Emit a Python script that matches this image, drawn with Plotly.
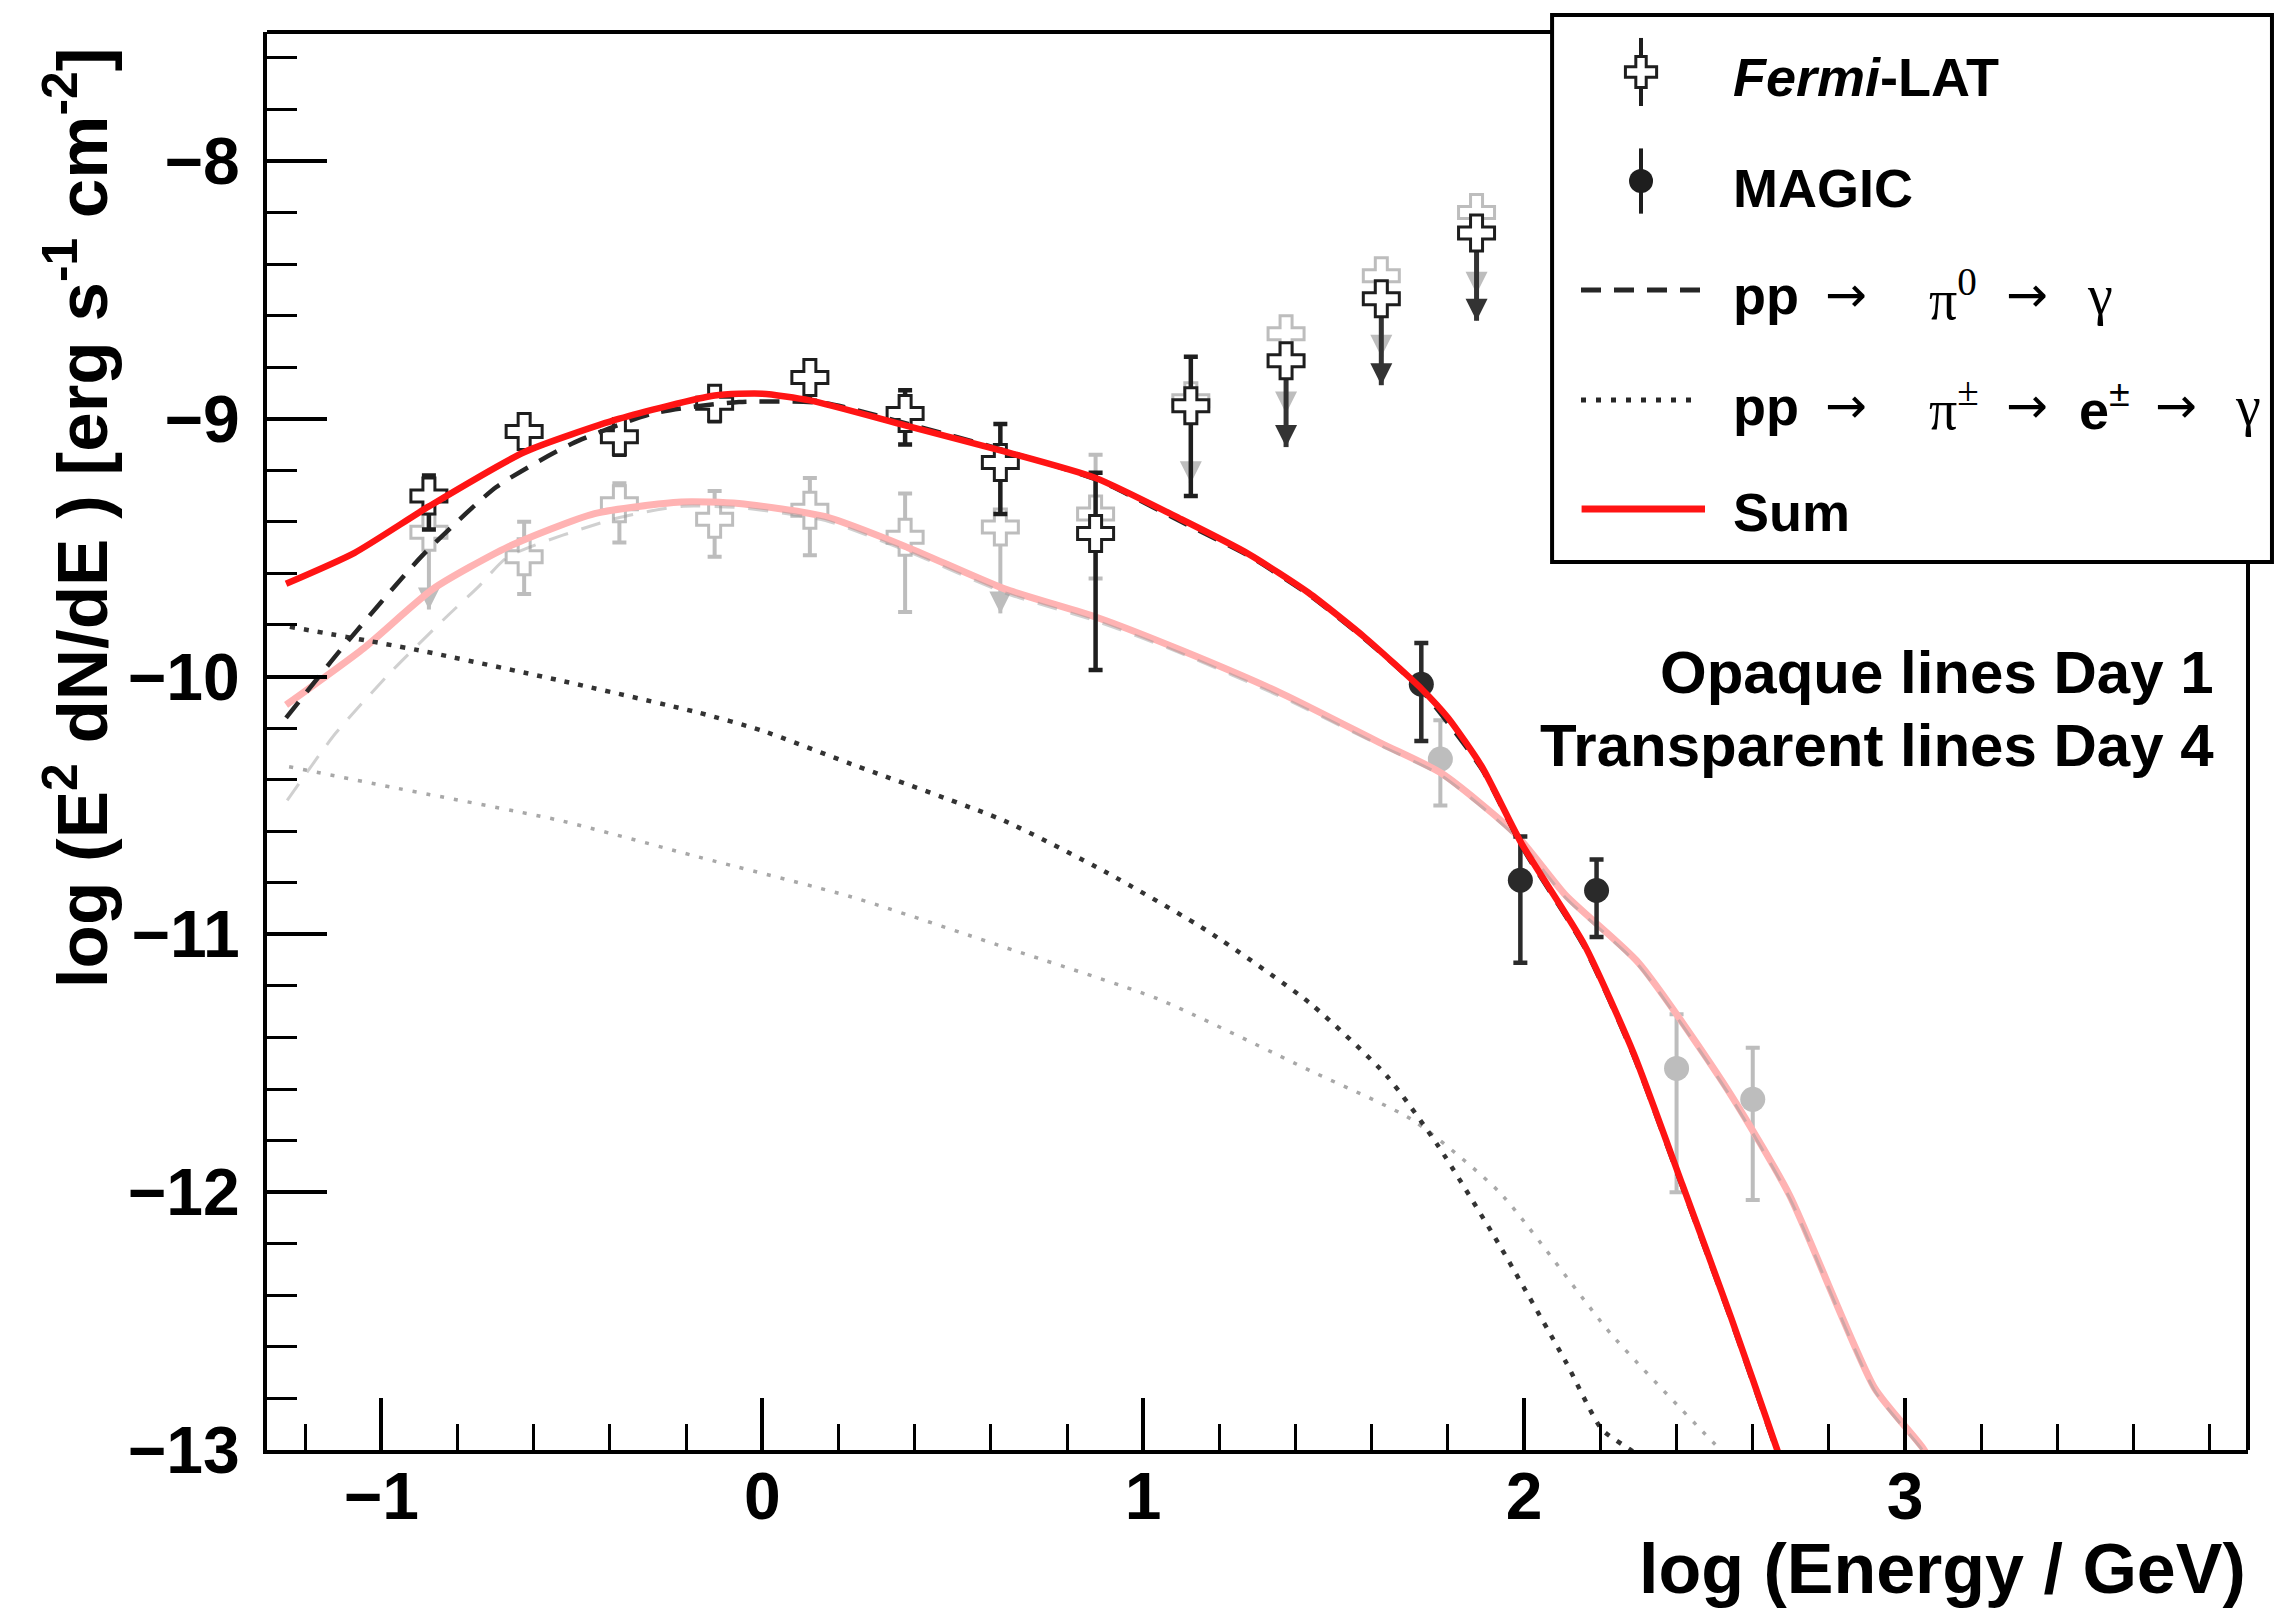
import plotly.graph_objects as go

# ---------------- data ----------------
# Fermi-LAT, Day 1 (detections)
fermi_d1_x = [-0.875, -0.625, -0.375, -0.125, 0.125, 0.375, 0.625, 0.875, 1.125]
fermi_d1_y = [-9.30, -9.05, -9.07, -8.94, -8.84, -8.98, -9.17, -9.445, -8.95]
fermi_d1_hi = [-9.22, -8.99, -9.03, -8.88, -8.78, -8.89, -9.02, -9.21, -8.76]
fermi_d1_lo = [-9.43, -9.11, -9.14, -9.01, -8.93, -9.10, -9.37, -9.975, -9.30]
# Fermi-LAT, Day 1 upper limits
fermi_d1_ul_x = [1.375, 1.625, 1.875]
fermi_d1_ul_y = [-8.775, -8.535, -8.28]
fermi_d1_ul_tip = [-9.11, -8.87, -8.62]
# Fermi-LAT, Day 4 (detections)
fermi_d4_x = [-0.625, -0.375, -0.125, 0.125, 0.375, 0.875]
fermi_d4_y = [-9.535, -9.33, -9.39, -9.355, -9.46, -9.37]
fermi_d4_hi = [-9.40, -9.25, -9.28, -9.23, -9.29, -9.14]
fermi_d4_lo = [-9.68, -9.48, -9.535, -9.53, -9.75, -9.62]
# Fermi-LAT, Day 4 upper limits
fermi_d4_ul_x = [-0.875, 0.625, 1.125, 1.375, 1.625, 1.875]
fermi_d4_ul_y = [-9.44, -9.42, -8.93, -8.67, -8.445, -8.20]
fermi_d4_ul_tip = [-9.74, -9.755, -9.25, -8.98, -8.76, -8.515]

# MAGIC
magic_d1_x = [1.73, 1.99, 2.19]
magic_d1_y = [-10.03, -10.79, -10.83]
magic_d1_hi = [-9.87, -10.62, -10.71]
magic_d1_lo = [-10.25, -11.11, -11.01]
magic_d4_x = [1.78, 2.40, 2.60]
magic_d4_y = [-10.32, -11.52, -11.64]
magic_d4_hi = [-10.17, -11.31, -11.44]
magic_d4_lo = [-10.50, -12.00, -12.03]

# Model curves, Day 1
sum_d1_x = [-1.25, -1.07, -0.875, -0.625, -0.375, -0.125, 0.0, 0.125, 0.375, 0.625, 0.875,
            1.10, 1.277, 1.434, 1.583, 1.732, 1.80, 1.889, 1.994, 2.158, 2.287, 2.415, 2.544, 2.662, 2.70]
sum_d1_y = [-9.64, -9.52, -9.34, -9.13, -9.00, -8.91, -8.903, -8.929, -9.026, -9.123, -9.23,
            -9.39, -9.525, -9.675, -9.85, -10.05, -10.16, -10.35, -10.65, -11.04, -11.46, -11.97, -12.49, -12.99, -13.15]
pi0_d1_x = [-1.25, -1.107, -0.895, -0.698, -0.50, -0.289, -0.061, 0.166, 0.383, 0.62, 0.883,
            1.10, 1.277, 1.434, 1.583, 1.732, 1.889, 1.994, 2.158, 2.287, 2.415, 2.544, 2.662, 2.70]
pi0_d1_y = [-10.16, -9.897, -9.535, -9.265, -9.097, -8.98, -8.935, -8.94, -9.02, -9.116, -9.24,
            -9.40, -9.532, -9.682, -9.856, -10.056, -10.36, -10.66, -11.05, -11.47, -11.98, -12.50, -13.0, -13.15]
pipm_d1_x = [-1.24, -0.902, -0.535, -0.167, 0.0, 0.235, 0.636, 0.904, 1.172, 1.44, 1.64, 1.774,
             1.933, 2.11, 2.204, 2.28, 2.33]
pipm_d1_y = [-9.807, -9.898, -10.014, -10.14, -10.21, -10.34, -10.56, -10.76, -10.99, -11.27, -11.55, -11.82,
             -12.20, -12.66, -12.92, -13.0, -13.05]

# Model curves, Day 4
sum_d4_x = [-1.25, -1.046, -0.864, -0.667, -0.44, -0.213, -0.061, 0.166, 0.383, 0.636, 0.877,
            1.10, 1.364, 1.626, 1.784, 1.977, 2.11, 2.30, 2.533, 2.696, 2.92, 3.05, 3.08]
sum_d4_y = [-10.11, -9.89, -9.66, -9.497, -9.368, -9.323, -9.329, -9.38, -9.50, -9.66, -9.77,
            -9.898, -10.066, -10.26, -10.376, -10.61, -10.85, -11.11, -11.60, -12.01, -12.76, -13.0, -13.1]
pi0_d4_x = [-1.247, -1.12, -0.97, -0.83, -0.744, -0.667, -0.38, -0.213, -0.061, 0.166, 0.383, 0.636,
            0.877, 1.10, 1.364, 1.626, 1.784, 1.977, 2.11, 2.30, 2.533, 2.696, 2.92, 3.05, 3.08]
pi0_d4_y = [-10.48, -10.22, -9.975, -9.77, -9.65, -9.535, -9.385, -9.34, -9.345, -9.395, -9.515, -9.675,
            -9.785, -9.91, -10.08, -10.27, -10.385, -10.62, -10.86, -11.12, -11.61, -12.02, -12.77, -13.01, -13.1]
pipm_d4_x = [-1.242, -0.97, -0.535, -0.167, 0.235, 0.636, 1.038, 1.44, 1.707, 1.935, 2.228, 2.509, 2.55]
pipm_d4_y = [-10.35, -10.43, -10.557, -10.70, -10.855, -11.05, -11.25, -11.53, -11.72, -12.0, -12.55, -12.99, -13.05]

x_tick_vals = [-1, 0, 1, 2, 3]
y_tick_vals = [-13, -12, -11, -10, -9, -8]

# ---------------- style ----------------
FONT = "Liberation Sans"
BLACK = "#1e1e1e"
GREY = "#bdbdbd"
RED = "#ff1414"
PINK = "#ffb3b3"

fig = go.Figure()


def err(y, hi, lo):
    return dict(type="data", symmetric=False,
                array=[h - v for v, h in zip(y, hi)],
                arrayminus=[v - l for v, l in zip(y, lo)])


def ul_segments(xs, ys, tips):
    sx, sy = [], []
    for x, y, t in zip(xs, ys, tips):
        sx += [x, x, None]
        sy += [y, t, None]
    return sx, sy


# ---- Day 4 (transparent) points ----
sx, sy = ul_segments(fermi_d4_ul_x, fermi_d4_ul_y, fermi_d4_ul_tip)
fig.add_trace(go.Scatter(x=sx, y=sy, mode="lines", line=dict(color=GREY, width=4),
                         showlegend=False, hoverinfo="skip"))
fig.add_trace(go.Scatter(x=fermi_d4_ul_x, y=fermi_d4_ul_tip, mode="markers",
                         marker=dict(symbol="arrow-down", size=22, color=GREY),
                         showlegend=False))
fig.add_trace(go.Scatter(x=fermi_d4_ul_x, y=fermi_d4_ul_y, mode="markers",
                         marker=dict(symbol="cross", size=30, color="white",
                                     line=dict(color=GREY, width=3)),
                         showlegend=False))
fig.add_trace(go.Scatter(x=fermi_d4_x, y=fermi_d4_y, mode="markers",
                         error_y=dict(**err(fermi_d4_y, fermi_d4_hi, fermi_d4_lo),
                                      color=GREY, thickness=4, width=7),
                         marker=dict(symbol="cross", size=30, color="white",
                                     line=dict(color=GREY, width=3)),
                         showlegend=False))
fig.add_trace(go.Scatter(x=magic_d4_x, y=magic_d4_y, mode="markers",
                         error_y=dict(**err(magic_d4_y, magic_d4_hi, magic_d4_lo),
                                      color=GREY, thickness=4, width=7),
                         marker=dict(symbol="circle", size=25, color=GREY),
                         showlegend=False))

# ---- Day 4 curves ----
fig.add_trace(go.Scatter(x=pipm_d4_x, y=pipm_d4_y, mode="lines",
                         line=dict(color="#a8a8a8", width=3.5, dash="4px,10px",
                                   shape="spline", smoothing=0.6), showlegend=False))
fig.add_trace(go.Scatter(x=sum_d4_x, y=sum_d4_y, mode="lines",
                         line=dict(color=PINK, width=7, shape="spline", smoothing=0.6),
                         showlegend=False))
fig.add_trace(go.Scatter(x=pi0_d4_x, y=pi0_d4_y, mode="lines",
                         line=dict(color="rgba(150,150,150,0.45)", width=3, dash="20px,14px",
                                   shape="spline", smoothing=0.6), showlegend=False))

# ---- Day 1 (opaque) points ----
sx, sy = ul_segments(fermi_d1_ul_x, fermi_d1_ul_y, fermi_d1_ul_tip)
fig.add_trace(go.Scatter(x=sx, y=sy, mode="lines", line=dict(color="#333333", width=5),
                         showlegend=False, hoverinfo="skip"))
fig.add_trace(go.Scatter(x=fermi_d1_ul_x, y=fermi_d1_ul_tip, mode="markers",
                         marker=dict(symbol="arrow-down", size=22, color="#333333"),
                         showlegend=False))
fig.add_trace(go.Scatter(x=fermi_d1_ul_x, y=fermi_d1_ul_y, mode="markers",
                         marker=dict(symbol="cross", size=30, color="white",
                                     line=dict(color=BLACK, width=3)),
                         showlegend=False))
fig.add_trace(go.Scatter(x=fermi_d1_x, y=fermi_d1_y, mode="markers",
                         error_y=dict(**err(fermi_d1_y, fermi_d1_hi, fermi_d1_lo),
                                      color=BLACK, thickness=4.5, width=7),
                         marker=dict(symbol="cross", size=30, color="white",
                                     line=dict(color=BLACK, width=3)),
                         showlegend=False))
fig.add_trace(go.Scatter(x=magic_d1_x, y=magic_d1_y, mode="markers",
                         error_y=dict(**err(magic_d1_y, magic_d1_hi, magic_d1_lo),
                                      color="#2a2a2a", thickness=4.5, width=7),
                         marker=dict(symbol="circle", size=25, color="#2a2a2a"),
                         showlegend=False))

# ---- Day 1 curves ----
fig.add_trace(go.Scatter(x=pipm_d1_x, y=pipm_d1_y, mode="lines",
                         line=dict(color="#333333", width=4.5, dash="5px,9px",
                                   shape="spline", smoothing=0.6), showlegend=False))
fig.add_trace(go.Scatter(x=pi0_d1_x, y=pi0_d1_y, mode="lines",
                         line=dict(color="#262626", width=4.5, dash="20px,13px",
                                   shape="spline", smoothing=0.6), showlegend=False))
fig.add_trace(go.Scatter(x=sum_d1_x, y=sum_d1_y, mode="lines",
                         line=dict(color=RED, width=6.5, shape="spline", smoothing=0.6),
                         showlegend=False))

# ---------------- hand-made legend (paper coordinates) ----------------
leg_sym_x = 0.6936
fig.add_trace(go.Scatter(x=[leg_sym_x], y=[0.9718], xaxis="x2", yaxis="y2", mode="markers",
                         error_y=dict(type="data", array=[0.024], color=BLACK, thickness=4, width=0),
                         marker=dict(symbol="cross", size=26, color="white",
                                     line=dict(color=BLACK, width=3)),
                         showlegend=False, hoverinfo="skip"))
fig.add_trace(go.Scatter(x=[leg_sym_x], y=[0.8949], xaxis="x2", yaxis="y2", mode="markers",
                         error_y=dict(type="data", array=[0.023], color=BLACK, thickness=4, width=0),
                         marker=dict(symbol="circle", size=24, color=BLACK),
                         showlegend=False, hoverinfo="skip"))
fig.add_trace(go.Scatter(x=[0.6633, 0.7259], y=[0.8181, 0.8181], xaxis="x2", yaxis="y2",
                         mode="lines", line=dict(color="#262626", width=5, dash="20px,13px"),
                         showlegend=False, hoverinfo="skip"))
fig.add_trace(go.Scatter(x=[0.6633, 0.7224], y=[0.7405, 0.7405], xaxis="x2", yaxis="y2",
                         mode="lines", line=dict(color="#262626", width=5, dash="5px,10px"),
                         showlegend=False, hoverinfo="skip"))
fig.add_trace(go.Scatter(x=[0.6636, 0.7259], y=[0.6636, 0.6636], xaxis="x2", yaxis="y2",
                         mode="lines", line=dict(color=RED, width=7),
                         showlegend=False, hoverinfo="skip"))

shapes = [
    dict(type="line", xref="paper", yref="paper", x0=0, x1=1, y0=1, y1=1,
         line=dict(color="black", width=4), layer="below"),
    dict(type="line", xref="paper", yref="paper", x0=1, x1=1, y0=0, y1=1,
         line=dict(color="black", width=4), layer="below"),
    dict(type="rect", xref="paper", yref="paper", x0=0.6487, x1=1.0121, y0=0.6262, y1=1.0120,
         line=dict(color="black", width=4), fillcolor="white", layer="below"),
]

LEG_FONT = dict(family=FONT, size=54, color="black")
ARROW_FONT = dict(family="DejaVu Sans", size=50, color="black")
SYM_FONT = dict(family="Liberation Serif", size=56, color="black")


def ann(text, x, y, font, xanchor="left"):
    return dict(text=text, x=x, y=y, xref="paper", yref="paper", xanchor=xanchor,
                yanchor="middle", showarrow=False, font=font)


annotations = [
    ann("<b><i>Fermi</i>-LAT</b>", 0.7390, 0.9686, LEG_FONT),
    ann("<b>MAGIC</b>", 0.7390, 0.8903, LEG_FONT),
    ann("<b>pp</b>", 0.7390, 0.8145, LEG_FONT),
    ann("→", 0.7855, 0.8145, ARROW_FONT),
    ann("π<sup>0</sup>", 0.8380, 0.8145, SYM_FONT),
    ann("→", 0.8768, 0.8145, ARROW_FONT),
    ann("γ", 0.9177, 0.8145, SYM_FONT),
    ann("<b>pp</b>", 0.7390, 0.7363, LEG_FONT),
    ann("→", 0.7855, 0.7363, ARROW_FONT),
    ann("π<sup>±</sup>", 0.8380, 0.7363, SYM_FONT),
    ann("→", 0.8768, 0.7363, ARROW_FONT),
    ann("<b>e</b><sup>±</sup>", 0.9137, 0.7363, LEG_FONT),
    ann("→", 0.9521, 0.7363, ARROW_FONT),
    ann("γ", 0.9924, 0.7363, SYM_FONT),
    ann("<b>Sum</b>", 0.7390, 0.6615, LEG_FONT),
    # notes
    ann("<b>Opaque lines Day 1</b>", 0.9838, 0.548, dict(family=FONT, size=60, color="black"),
        xanchor="right"),
    ann("<b>Transparent lines Day 4</b>", 0.9838, 0.4965, dict(family=FONT, size=60, color="black"),
        xanchor="right"),
    # axis titles
    dict(text="<b>log (E<sup>2</sup> dN/dE ) [erg s<sup>-1</sup> cm<sup>-2</sup>]</b>",
         x=-0.0955, y=0.657, xref="paper", yref="paper", textangle=-90,
         xanchor="center", yanchor="middle", showarrow=False,
         font=dict(family=FONT, size=71, color="black")),
    dict(text="<b>log (Energy / GeV)</b>", x=1.0, y=-0.0839, xref="paper", yref="paper",
         xanchor="right", yanchor="middle", showarrow=False,
         font=dict(family=FONT, size=70, color="black")),
]

tickfont = dict(family=FONT, size=66, color="black", weight="bold")

fig.update_layout(
    width=2289, height=1612, autosize=False,
    margin=dict(l=267, r=41, t=32, b=162),
    paper_bgcolor="white", plot_bgcolor="white",
    showlegend=False,
    shapes=shapes, annotations=annotations,
    xaxis=dict(range=[-1.3, 3.9], tickmode="array", tickvals=x_tick_vals,
               ticks="inside", ticklen=52, tickwidth=4, tickcolor="black",
               showline=True, linewidth=4, linecolor="black", mirror=False,
               showgrid=False, zeroline=False, tickfont=tickfont, ticklabelstandoff=-14,
               minor=dict(dtick=0.2, tick0=0, ticks="inside", ticklen=26, tickwidth=3,
                          tickcolor="black", showgrid=False)),
    yaxis=dict(range=[-13, -7.5], tickmode="array", tickvals=y_tick_vals,
               ticks="inside", ticklen=60, tickwidth=4, tickcolor="black",
               showline=True, linewidth=4, linecolor="black", mirror=False,
               showgrid=False, zeroline=False, tickfont=tickfont, ticklabelstandoff=10,
               minor=dict(dtick=0.2, tick0=0, ticks="inside", ticklen=30, tickwidth=3,
                          tickcolor="black", showgrid=False)),
    xaxis2=dict(range=[0, 1], overlaying="x", visible=False, fixedrange=True),
    yaxis2=dict(range=[0, 1], overlaying="y", visible=False, fixedrange=True),
)

fig.write_html("out.html")
